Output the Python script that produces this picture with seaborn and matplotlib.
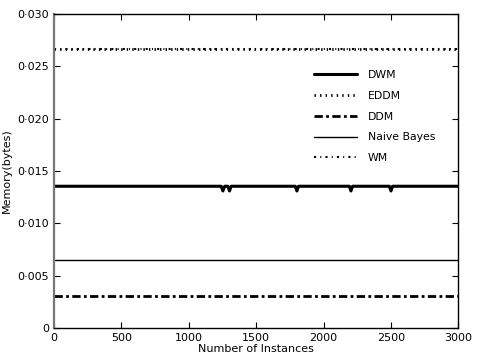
import numpy as np
import pandas as pd
import matplotlib
matplotlib.use("Agg")
import matplotlib.pyplot as plt
from matplotlib.ticker import FuncFormatter
import seaborn as sns

# memory per model (bytes) over the stream
x_flat = [0, 3000]
eddm = [0.02665, 0.02665]
wm = [0.02665, 0.02665]
ddm = [0.00305, 0.00305]
naive_bayes = [0.0065, 0.0065]

# DWM is flat with a few short dips
dwm_x = [0, 1240, 1253, 1266, 1290, 1302, 1314, 1790, 1802, 1814,
         2191, 2203, 2215, 2488, 2500, 2512, 3000]
dwm_y = [0.01355, 0.01355, 0.0131, 0.01355, 0.01355, 0.0131, 0.01355,
         0.01355, 0.0131, 0.01355, 0.01355, 0.0131, 0.01355,
         0.01355, 0.0131, 0.01355, 0.01355]

sns.set_style("ticks", {"xtick.direction": "in", "ytick.direction": "in",
                        "text.color": "black", "axes.labelcolor": "black",
                        "xtick.color": "black", "ytick.color": "black"})
plt.rcParams["font.family"] = ["DejaVu Sans"]

fig, ax = plt.subplots(figsize=(4.82, 3.59), dpi=100)
fig.subplots_adjust(left=0.112, right=0.951, top=0.961, bottom=0.086)

sns.lineplot(x=dwm_x, y=dwm_y, ax=ax, color="black", lw=2.2, label="DWM")
sns.lineplot(x=x_flat, y=eddm, ax=ax, color="black", lw=2.0, label="EDDM",
             linestyle=(0, (0.5, 1.5)))
sns.lineplot(x=x_flat, y=ddm, ax=ax, color="black", lw=2.0, label="DDM",
             linestyle=(0, (3, 1.2, 1, 1.2)))
sns.lineplot(x=x_flat, y=naive_bayes, ax=ax, color="black", lw=1.0,
             label="Naive Bayes")
sns.lineplot(x=x_flat, y=wm, ax=ax, color="black", lw=1.5, label="WM",
             linestyle=(0, (1, 2, 0.5, 2)))

ax.set_xlim(0, 3000)
ax.set_ylim(0, 0.030)
ax.set_xticks([0, 500, 1000, 1500, 2000, 2500, 3000])
ax.set_yticks([0, 0.005, 0.010, 0.015, 0.020, 0.025, 0.030])
ax.yaxis.set_major_formatter(FuncFormatter(
    lambda v, p: "0" if v == 0 else f"{v:.3f}".replace(".", "\u00b7")))
ax.tick_params(labelsize=8, top=True, right=True, length=4, width=0.8)
ax.set_xlabel("Number of Instances", fontsize=8, labelpad=1)
ax.set_ylabel("Memory(bytes)", fontsize=8)
for s in ax.spines.values():
    s.set_linewidth(1.0)
    s.set_color("black")
ax.spines["left"].set_color("#777777")
ax.spines["left"].set_linewidth(1.6)

ax.legend(loc="upper left", bbox_to_anchor=(0.618, 0.853), frameon=False,
          fontsize=7.8, handlelength=4.0, labelspacing=1.0,
          handletextpad=1.0)

plt.savefig("out.png", dpi=100)
